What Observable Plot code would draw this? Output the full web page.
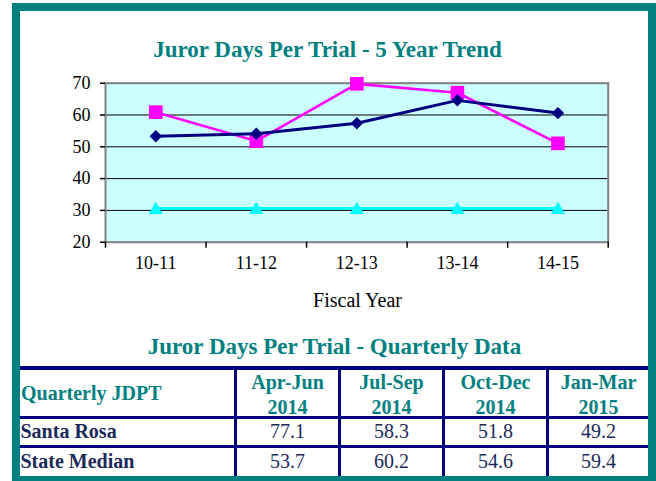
<!DOCTYPE html>
<html>
<head>
<meta charset="utf-8">
<script src="https://cdn.jsdelivr.net/npm/d3@7"></script>
<script src="https://cdn.jsdelivr.net/npm/@observablehq/plot@0.6"></script>
<style>
  html, body { margin: 0; padding: 0; width: 656px; height: 481px; overflow: hidden; background: #fff; }
  #frame { position: absolute; left: 12px; top: 3px; width: 628px; height: 464.5px; border: 8px solid #008080; background: #fff; }
  .abs { position: absolute; white-space: nowrap; font-family: "Liberation Serif", "Times New Roman", serif; }
  .title { font-size: 23px; font-weight: bold; color: #008080; line-height: 26px; transform: translateX(-50%); }
  #chart { position: absolute; left: 0; top: 0; }
  .hline, .vline { position: absolute; background: #000080; }
  .hdr { font-size: 20px; font-weight: bold; color: #008080; line-height: 24.5px; text-align: center; }
  .lab { font-size: 20px; font-weight: bold; color: #1c2a5a; line-height: 24.5px; }
  .num { font-size: 20px; color: #1c2a5a; line-height: 24.5px; text-align: center; }
</style>
</head>
<body>
<div id="frame"></div>
<div id="chart"></div>
<div class="abs title" style="left:327.5px; top:36.5px;">Juror Days Per Trial - 5 Year Trend</div>
<div class="abs" style="left:357.5px; top:288.5px; transform:translateX(-50%); font-size:20px; line-height:23px; color:#000;">Fiscal Year</div>
<div class="abs title" style="left:334.5px; top:333.5px;">Juror Days Per Trial - Quarterly Data</div>
<div id="table"></div>
<script>
// ---- data ----
const years = ["10-11", "11-12", "12-13", "13-14", "14-15"];
const navySeries = [53.3, 54.1, 57.4, 64.6, 60.6];
const magentaSeries = [60.9, 51.8, 69.8, 67.0, 51.1];
const cyanSeries = [30.6, 30.6, 30.6, 30.6, 30.6];
const yTicks = [20, 30, 40, 50, 60, 70];

const quarterNames = ["Apr-Jun", "Jul-Sep", "Oct-Dec", "Jan-Mar"];
const quarterYears = ["2014", "2014", "2014", "2015"];
const rowLabels = ["Santa Rosa", "State Median"];
const santaRosa = [77.1, 58.3, 51.8, 49.2];
const stateMedian = [53.7, 60.2, 54.6, 59.4];
const cornerLabel = "Quarterly JDPT";

// ---- chart ----
const toRows = (vals) => years.map((yr, i) => ({ x: i + 0.5, year: yr, v: vals[i] }));
const navy = toRows(navySeries), magenta = toRows(magentaSeries), cyan = toRows(cyanSeries);
const boundaries = d3.range(years.length + 1);
const centers = years.map((_, i) => i + 0.5);

const chart = Plot.plot({
  width: 656,
  height: 320,
  marginTop: 82.7,
  marginBottom: 78.3,
  marginLeft: 105,
  marginRight: 48.3,
  x: { domain: [0, years.length], axis: null },
  y: { domain: [20, 70], axis: null },
  style: { fontFamily: "'Liberation Serif', 'Times New Roman', serif", fontSize: "18px", color: "#000", background: "transparent", overflow: "visible" },
  marks: [
    Plot.frame({ fill: "#ccffff", stroke: null }),
    Plot.gridY([30, 40, 50, 60], { stroke: "#000", strokeOpacity: 1, strokeWidth: 1 }),
    Plot.frame({ stroke: "#808080", strokeWidth: 2 }),
    Plot.axisY({ ticks: yTicks, tickSize: 5, tickPadding: 10, label: null, stroke: "#000", strokeWidth: 1.5 }),
    Plot.axisX({ ticks: boundaries, tickSize: 6, tickFormat: () => "", label: null, stroke: "#000", strokeWidth: 1.5 }),
    Plot.axisX({ ticks: centers, tickSize: 0, tickPadding: 14.5, tickFormat: (d) => years[Math.floor(d)], label: null }),
    Plot.line(cyan, { x: "x", y: "v", stroke: "#00ffff", strokeWidth: 3 }),
    Plot.dot(cyan, { x: "x", y: "v", symbol: "triangle2", r: 6.8, dy: 1.5, fill: "#00ffff", stroke: null }),
    Plot.line(magenta, { x: "x", y: "v", stroke: "#ff00ff", strokeWidth: 2.6 }),
    Plot.dot(magenta, { x: "x", y: "v", symbol: "square2", r: 8.7, fill: "#ff00ff", stroke: null }),
    Plot.line(navy, { x: "x", y: "v", stroke: "#000080", strokeWidth: 3 }),
    Plot.dot(navy, { x: "x", y: "v", symbol: "diamond2", r: 5.6, fill: "#000080", stroke: null })
  ]
});
document.getElementById("chart").appendChild(chart);

// ---- table ----
const tbl = document.getElementById("table");
const add = (cls, style, text) => {
  const d = document.createElement("div");
  d.className = cls;
  d.setAttribute("style", style);
  if (text != null) d.innerHTML = text;
  tbl.appendChild(d);
};
const colLeft = [20, 237, 341, 445, 549];
const colRight = [234, 338, 442, 546, 648];
const vLines = [234, 338, 442, 546];
add("hline", "left:20px; top:366px; width:628px; height:4px;");
add("hline", "left:20px; top:415.5px; width:628px; height:3.2px;");
add("hline", "left:20px; top:445.2px; width:628px; height:3.2px;");
vLines.forEach(x => add("vline", `left:${x}px; top:366px; width:3px; height:109.5px;`));
add("abs lab", `left:21px; top:380.5px; color:#008080;`, cornerLabel);
quarterNames.forEach((q, i) => {
  const l = colLeft[i + 1], w = colRight[i + 1] - colLeft[i + 1];
  add("abs hdr", `left:${l}px; width:${w}px; top:370.2px;`, q + "<br>" + quarterYears[i]);
});
const rowTops = [419.3, 448.7];
[santaRosa, stateMedian].forEach((vals, r) => {
  add("abs lab", `left:20.5px; top:${rowTops[r]}px;`, rowLabels[r]);
  vals.forEach((v, i) => {
    const l = colLeft[i + 1], w = colRight[i + 1] - colLeft[i + 1];
    add("abs num", `left:${l}px; width:${w}px; top:${rowTops[r]}px;`, v.toFixed(1));
  });
});
</script>
</body>
</html>
